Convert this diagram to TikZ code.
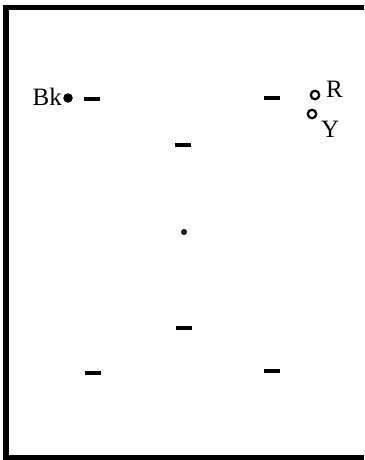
\documentclass[tikz,border=0pt]{standalone}
\usepackage{fontspec}
\setmainfont{Liberation Serif}
\usetikzlibrary{positioning}
\tikzset{
	bar/.style={rectangle, fill=black, inner sep=0pt, minimum width=16pt, minimum height=4.5pt},
	pin/.style={circle, fill=black, inner sep=0pt, minimum size=#1},
	hole/.style={circle, draw=black, line width=2.2pt, fill=white, inner sep=0pt, minimum size=8.5pt},
	lbl/.style={font=\fontsize{25}{25}\selectfont, inner sep=0pt}
}

\begin{document}
\begin{tikzpicture}[x=1pt, y=-1pt]
		%%%%% START %%%%%
		
		\useasboundingbox (0, 0) rectangle (364, 460);
		
		\draw[line width=5.5pt] (364, 7.5) -- (6, 7.5) -- (6, 457.5) -- (364, 457.5);
		
		\node[pin=9.5pt] (bk) at (68, 98) {};
		\node[lbl, left=1pt of bk, yshift=1pt] (bklbl) {Bk};
		
		\node[hole] (r) at (315, 95) {};
		\node[lbl, anchor=west] (rlbl) at (326, 89) {R};
		\node[hole] (y) at (312, 114) {};
		\node[lbl, anchor=west] (ylbl) at (321, 129) {Y};
		
		\node[pin=6pt] (mid) at (184, 232) {};
		
		\node[bar] (b1) at (92, 99) {};
		\node[bar] (b2) at (272, 98) {};
		\node[bar] (b3) at (183, 145) {};
		\node[bar] (b4) at (184, 328) {};
		\node[bar] (b5) at (93, 373) {};
		\node[bar] (b6) at (272, 371) {};
		
		%%%%% END %%%%%
	\end{tikzpicture}
\end{document}
